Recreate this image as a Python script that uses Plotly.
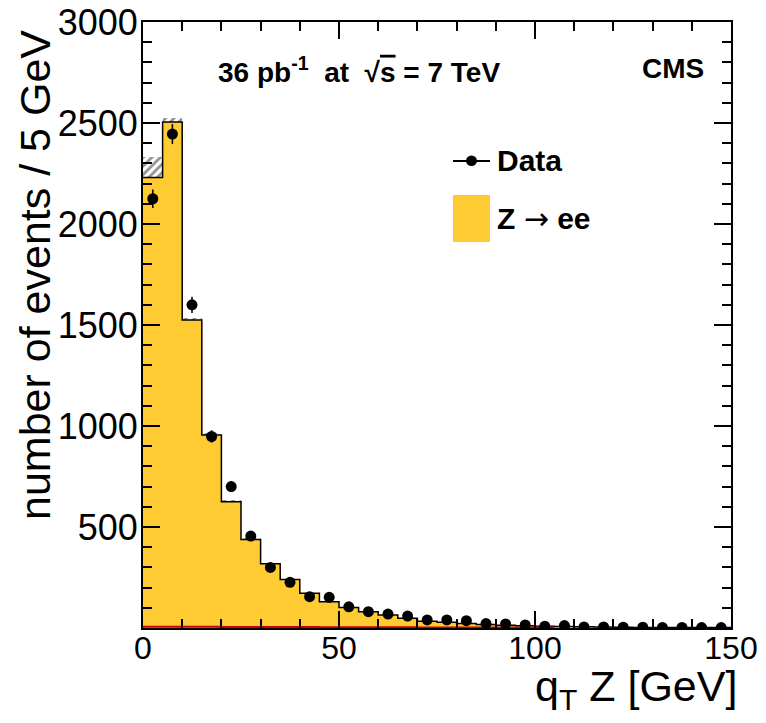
import numpy as np
import plotly.graph_objects as go

# ---------------- data ----------------
bin_edges = list(range(0, 155, 5))                      # 0..150 GeV, 5 GeV bins
bin_centers = [e + 2.5 for e in bin_edges[:-1]]

data_counts = [2125, 2445, 1600, 948, 700, 455, 300, 226, 155, 152,
               105, 81, 69, 59, 40, 40, 36, 22, 20, 15,
               9, 12, 5, 5, 4, 4, 3, 3, 2, 2]

mc_zee = [2230, 2505, 1525, 955, 625, 438, 318, 240, 172, 130,
          102, 81, 64, 48, 34, 28, 22, 17, 14, 11,
          9, 7, 6, 5, 4, 3, 3, 2, 2, 2]

mc_unc = [100, 20, 12, 10, 8, 6, 5, 4, 3, 3,
          2, 2, 2, 2, 1, 1, 1, 1, 1, 1,
          1, 1, 1, 1, 1, 1, 1, 1, 1, 1]

bkg = [6, 6, 6, 6, 5, 5, 5, 5, 5, 4,
       4, 4, 4, 4, 3, 3, 3, 3, 3, 2,
       2, 1, 1, 1, 1, 1, 1, 1, 1, 1]

y_tick_vals = [500, 1000, 1500, 2000, 2500, 3000]
x_tick_vals = [0, 50, 100, 150]

YELLOW = "#FFCB32"
FONT = "Liberation Sans, Arial, sans-serif"

# plot-area pixel mapping helpers (for annotations only)
L, R, T, B = 143, 731, 22, 628
def px(p):
    return (p - L) / (R - L)
def py(p):
    return (B - p) / (B - T)

fig = go.Figure()

# yellow filled histogram (Z->ee)
fig.add_trace(go.Scatter(
    x=bin_edges, y=mc_zee + [mc_zee[-1]], mode="lines", line_shape="hv",
    fill="tozeroy", fillcolor=YELLOW, line=dict(color="black", width=1.5),
    hoverinfo="skip", showlegend=False))

# hatched MC uncertainty
fig.add_trace(go.Bar(
    x=bin_centers, y=[2 * u for u in mc_unc],
    base=[m - u for m, u in zip(mc_zee, mc_unc)], width=5,
    marker=dict(color="rgba(0,0,0,0)", line=dict(width=0),
                pattern=dict(shape="/", fgcolor="#222222", bgcolor="rgba(0,0,0,0)",
                             size=6, solidity=0.45)),
    hoverinfo="skip", showlegend=False))

# small background (red line)
fig.add_trace(go.Scatter(
    x=bin_edges[:22], y=bkg[:21] + [bkg[20]], mode="lines", line_shape="hv",
    line=dict(color="#CC0000", width=2), hoverinfo="skip", showlegend=False))

# data points
fig.add_trace(go.Scatter(
    x=bin_centers, y=data_counts, mode="markers",
    marker=dict(color="black", size=11),
    error_y=dict(type="data", array=list(np.sqrt(data_counts)), color="black",
                 thickness=1.5, width=0),
    showlegend=False))

axis_common = dict(showline=True, linecolor="black", linewidth=2, mirror="ticks",
                   ticks="inside", tickcolor="black", tickwidth=1.5, ticklen=17,
                   showgrid=False, zeroline=False, automargin=False)

fig.update_xaxes(range=[0, 150], tickvals=x_tick_vals, ticklabelstandoff=-9,
                 tickfont=dict(family=FONT, size=32, color="black"),
                 minor=dict(tickmode="linear", tick0=0, dtick=10, ticks="inside",
                            ticklen=9, tickcolor="black", tickwidth=1.5),
                 **axis_common)
fig.update_yaxes(range=[0, 3000], tickvals=y_tick_vals, ticklabelstandoff=-4,
                 tickfont=dict(family=FONT, size=36, color="black"),
                 minor=dict(tickmode="linear", tick0=0, dtick=100, ticks="inside",
                            ticklen=9, tickcolor="black", tickwidth=1.5),
                 **axis_common)

annotations = [
    dict(text="number of events / 5 GeV", x=px(35), y=py(28), xref="paper", yref="paper",
         textangle=-90, xanchor="center", yanchor="top", showarrow=False,
         font=dict(family=FONT, size=43, color="black")),
    dict(text="q<sub>T</sub> Z [GeV]", x=px(739), y=py(689), xref="paper", yref="paper",
         xanchor="right", yanchor="middle", showarrow=False,
         font=dict(family=FONT, size=43, color="black")),
    dict(text="<b>36 pb<sup>-1</sup>  at  √<span style='text-decoration:overline'>s</span> = 7 TeV</b>",
         x=px(216), y=py(70), xref="paper", yref="paper", xanchor="left", yanchor="middle",
         showarrow=False, font=dict(family=FONT, size=28, color="black")),
    dict(text="<b>CMS</b>", x=px(706), y=py(68), xref="paper", yref="paper",
         xanchor="right", yanchor="middle", showarrow=False,
         font=dict(family=FONT, size=28, color="black")),
    dict(text="<b>Data</b>", x=px(495), y=py(161), xref="paper", yref="paper",
         xanchor="left", yanchor="middle", showarrow=False,
         font=dict(family=FONT, size=30, color="black")),
    dict(text="<b>Z <span style='font-family:DejaVu Sans;font-weight:normal'>→</span> ee</b>",
         x=px(495), y=py(218), xref="paper", yref="paper",
         xanchor="left", yanchor="middle", showarrow=False,
         font=dict(family=FONT, size=30, color="black")),
]

shapes = [
    dict(type="line", xref="paper", yref="paper", x0=px(453), x1=px(490),
         y0=py(161), y1=py(161), line=dict(color="black", width=2)),
    dict(type="circle", xref="paper", yref="paper", x0=px(466), x1=px(477),
         y0=py(166), y1=py(155.5), fillcolor="black", line=dict(color="black", width=0)),
    dict(type="rect", xref="paper", yref="paper", x0=px(453), x1=px(490),
         y0=py(242), y1=py(195), fillcolor=YELLOW, line=dict(width=0)),
]

fig.update_layout(width=766, height=723, autosize=False,
                  margin=dict(l=L, r=766 - R, t=T, b=723 - B, autoexpand=False),
                  paper_bgcolor="white", plot_bgcolor="white",
                  bargap=0, showlegend=False,
                  annotations=annotations, shapes=shapes)

fig.write_html("out.html")
